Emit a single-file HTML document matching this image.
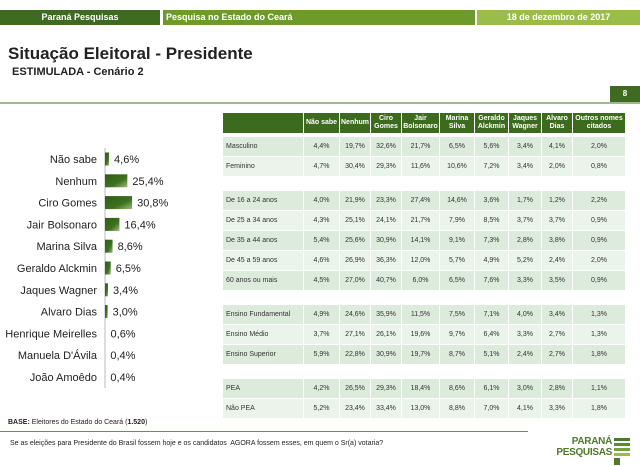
<!DOCTYPE html>
<html><head><meta charset="utf-8">
<style>
body{margin:0;width:640px;height:466px;position:relative;background:#fff;font-family:"Liberation Sans",sans-serif;overflow:hidden}
.abs{position:absolute}
.hb{position:absolute;top:10px;height:15px;color:#fff;font-size:9px;font-weight:bold;line-height:15px}
table{position:absolute;left:222px;top:112px;border-collapse:separate;border-spacing:1px 1px;font-size:7px;color:#333}
td,th{padding:0;text-align:center}
th{background:#3c6a1e;color:#fff;font-weight:bold;height:20px;line-height:8px;font-size:7px}
td{height:19px}
td.l{text-align:left;padding-left:3px}
tr.a td{background:#dcebdc}
tr.b td{background:#eaf4ea}
tr.g td{background:transparent;height:13px}
tr.s td{background:transparent;height:2px}
</style></head><body>
<div class="hb" style="left:0;width:160px;background:#3e6b1f;text-align:center">Paraná Pesquisas</div>
<div class="hb" style="left:163px;width:312px;background:#6e9a2c;padding-left:3px;box-sizing:border-box">Pesquisa no Estado do Ceará</div>
<div class="hb" style="left:477px;width:163px;background:#9bbb4a;text-align:center">18 de dezembro de 2017</div>
<div class="abs" style="left:8px;top:44px;font-size:17px;font-weight:bold;color:#222">Situação Eleitoral - Presidente</div>
<div class="abs" style="left:12px;top:66px;font-size:11px;font-weight:bold;color:#222">ESTIMULADA - Cenário 2</div>
<div class="abs" style="left:610px;top:86px;width:30px;height:16px;background:#3e6b1f;color:#fff;font-size:8px;font-weight:bold;line-height:16px;text-align:center">8</div>
<div class="abs" style="left:0;top:102px;width:640px;height:2px;background:#9fb98a"></div>

<svg class="abs" style="left:0;top:0" width="220" height="400">
<defs><linearGradient id="bg" x1="0" y1="0" x2="1" y2="1"><stop offset="0" stop-color="#2f5e14"/><stop offset="0.6" stop-color="#3e7020"/><stop offset="1" stop-color="#9dbd7a"/></linearGradient></defs>
<line x1="105" y1="148" x2="105" y2="388" stroke="#bbb" stroke-width="1"/>
<g id="bars"></g>
</svg>
<script>
const candidates=["Não sabe","Nenhum","Ciro Gomes","Jair Bolsonaro","Marina Silva","Geraldo Alckmin","Jaques Wagner","Alvaro Dias","Henrique Meirelles","Manuela D'Ávila","João Amoêdo"];
const votes=[4.6,25.4,30.8,16.4,8.6,6.5,3.4,3.0,0.6,0.4,0.4];
(function(){
const g=document.getElementById('bars');const ns="http://www.w3.org/2000/svg";
const x=v=>v*0.88, y=i=>159+i*21.8;
candidates.forEach((c,i)=>{
 const t=document.createElementNS(ns,'text');t.setAttribute('x',97);t.setAttribute('y',y(i)+4);t.setAttribute('text-anchor','end');t.setAttribute('font-size','11');t.setAttribute('fill','#222');t.textContent=c;
 
 
 g.appendChild(t);
 if(votes[i]>=1){const r=document.createElementNS(ns,'rect');r.setAttribute('x',105);r.setAttribute('y',y(i)-6.5);r.setAttribute('width',x(votes[i]));r.setAttribute('height',13);r.setAttribute('fill','url(#bg)');
 
 
 g.appendChild(r);}
 const v=document.createElementNS(ns,'text');v.setAttribute('x',105+x(votes[i])+5);v.setAttribute('y',y(i)+4);v.setAttribute('font-size','11');v.setAttribute('fill','#222');v.textContent=votes[i].toFixed(1).replace('.',',')+'%';
 
 
 g.appendChild(v);
});
})();
</script>

<table>
<colgroup><col style="width:80px"><col style="width:35px"><col style="width:30px"><col style="width:30px"><col style="width:37px"><col style="width:34px"><col style="width:33px"><col style="width:32px"><col style="width:30px"><col style="width:52px"></colgroup>
<tr><th style="background:#3c6a1e"></th><th>Não sabe</th><th>Nenhum</th><th>Ciro<br>Gomes</th><th>Jair<br>Bolsonaro</th><th>Marina<br>Silva</th><th>Geraldo<br>Alckmin</th><th>Jaques<br>Wagner</th><th>Alvaro<br>Dias</th><th>Outros nomes<br>citados</th></tr>
<tr class="s"><td colspan="10"></td></tr>
<tr class="a"><td class="l">Masculino</td><td>4,4%</td><td>19,7%</td><td>32,6%</td><td>21,7%</td><td>6,5%</td><td>5,6%</td><td>3,4%</td><td>4,1%</td><td>2,0%</td></tr>
<tr class="b"><td class="l">Feminino</td><td>4,7%</td><td>30,4%</td><td>29,3%</td><td>11,6%</td><td>10,6%</td><td>7,2%</td><td>3,4%</td><td>2,0%</td><td>0,8%</td></tr>
<tr class="g"><td colspan="10"></td></tr>
<tr class="a"><td class="l">De 16 a 24 anos</td><td>4,0%</td><td>21,9%</td><td>23,3%</td><td>27,4%</td><td>14,6%</td><td>3,6%</td><td>1,7%</td><td>1,2%</td><td>2,2%</td></tr>
<tr class="b"><td class="l">De 25 a 34 anos</td><td>4,3%</td><td>25,1%</td><td>24,1%</td><td>21,7%</td><td>7,9%</td><td>8,5%</td><td>3,7%</td><td>3,7%</td><td>0,9%</td></tr>
<tr class="a"><td class="l">De 35 a 44 anos</td><td>5,4%</td><td>25,6%</td><td>30,9%</td><td>14,1%</td><td>9,1%</td><td>7,3%</td><td>2,8%</td><td>3,8%</td><td>0,9%</td></tr>
<tr class="b"><td class="l">De 45 a 59 anos</td><td>4,6%</td><td>26,9%</td><td>36,3%</td><td>12,0%</td><td>5,7%</td><td>4,9%</td><td>5,2%</td><td>2,4%</td><td>2,0%</td></tr>
<tr class="a"><td class="l">60 anos ou mais</td><td>4,5%</td><td>27,0%</td><td>40,7%</td><td>6,0%</td><td>6,5%</td><td>7,6%</td><td>3,3%</td><td>3,5%</td><td>0,9%</td></tr>
<tr class="g"><td colspan="10"></td></tr>
<tr class="a"><td class="l">Ensino Fundamental</td><td>4,9%</td><td>24,6%</td><td>35,9%</td><td>11,5%</td><td>7,5%</td><td>7,1%</td><td>4,0%</td><td>3,4%</td><td>1,3%</td></tr>
<tr class="b"><td class="l">Ensino Médio</td><td>3,7%</td><td>27,1%</td><td>26,1%</td><td>19,6%</td><td>9,7%</td><td>6,4%</td><td>3,3%</td><td>2,7%</td><td>1,3%</td></tr>
<tr class="a"><td class="l">Ensino Superior</td><td>5,9%</td><td>22,8%</td><td>30,9%</td><td>19,7%</td><td>8,7%</td><td>5,1%</td><td>2,4%</td><td>2,7%</td><td>1,8%</td></tr>
<tr class="g"><td colspan="10"></td></tr>
<tr class="a"><td class="l">PEA</td><td>4,2%</td><td>26,5%</td><td>29,3%</td><td>18,4%</td><td>8,6%</td><td>6,1%</td><td>3,0%</td><td>2,8%</td><td>1,1%</td></tr>
<tr class="b"><td class="l">Não PEA</td><td>5,2%</td><td>23,4%</td><td>33,4%</td><td>13,0%</td><td>8,8%</td><td>7,0%</td><td>4,1%</td><td>3,3%</td><td>1,8%</td></tr>
</table>

<div class="abs" style="left:8px;top:419px;font-size:7px;color:#222"><b>BASE:</b> Eleitores do Estado do Ceará (<b>1.520</b>)</div>
<div class="abs" style="left:0;top:431px;width:528px;height:1px;background:#6b8f4e"></div>
<div class="abs" style="left:10px;top:440px;font-size:7px;color:#222">Se as eleições para Presidente do Brasil fossem hoje e os candidatos&nbsp; AGORA fossem esses, em quem o Sr(a) votaria?</div>
<div class="abs" style="left:556px;top:436px;width:76px;height:30px">
<div style="position:absolute;right:20px;top:0;font-size:10px;font-weight:bold;color:#4e7a2a;line-height:11px;text-align:right;letter-spacing:-0.3px">PARANÁ<br>PESQUISAS</div>
<div style="position:absolute;right:2px;top:2px;width:16px;height:3px;background:#4e7a2a;box-shadow:0 5px 0 #5e8a30,0 10px 0 #7aa03c,0 15px 0 #9bbb4a"></div>
<div style="position:absolute;right:12px;top:22px;width:6px;height:7px;background:#4e7a2a"></div>
</div>
</body></html>
